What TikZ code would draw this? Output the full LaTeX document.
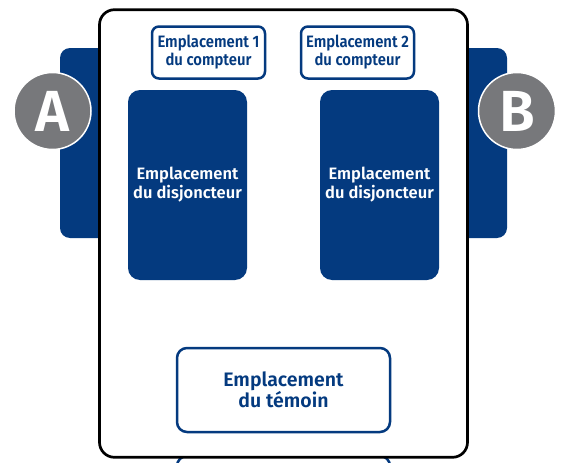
\documentclass[tikz,border=0pt]{standalone}
\usepackage{fontspec}
\setmainfont{Fira Sans}[BoldFont={Fira Sans SemiBold}]
\newfontfamily\narrowfont{Fira Sans}[BoldFont={Fira Sans SemiBold}, FakeStretch=0.9]
\definecolor{boxblue}{HTML}{043A7F}
\definecolor{markgray}{HTML}{77787B}

\tikzset{
  tabbox/.style={fill=boxblue, draw=none, rounded corners=10pt},
  slotbox/.style={draw=boxblue, line width=2.5pt, fill=white, rounded corners=7pt, text=boxblue, align=center},
  breakerbox/.style={fill=boxblue, draw=none, rounded corners=12pt, text=white, align=center,
    minimum width=119, minimum height=190, font=\bfseries\fontsize{16.5}{19}\selectfont},
  sidemark/.style={circle, fill=markgray, draw=white, line width=1.5pt, minimum size=77,
    inner sep=0pt, text=white, font=\bfseries\fontsize{58}{58}\selectfont}
}

\begin{document}
\begin{tikzpicture}[x=1pt, y=-1pt]

        \useasboundingbox (0,0) rectangle (563,463);

        %coordinates
        \coordinate (M) at (283.5,233.5); % boitier
        \coordinate (C1) at (208.5,52.5); % compteur 1
        \coordinate (C2) at (357.5,52.5); % compteur 2
        \coordinate (D1) at (187.5,185); % disjoncteur 1
        \coordinate (D2) at (379.5,185); % disjoncteur 2
        \coordinate (T) at (283.5,390); % temoin

        %side tabs
        \node[tabbox, minimum width=50, minimum height=190] (tabA) at (85,143) {};
        \node[tabbox, minimum width=51, minimum height=190] (tabB) at (481.5,143) {};

        %lower box, cut by the page
        \begin{scope}
          \clip (0,0) rectangle (563,463);
          \node[slotbox, rounded corners=10pt, minimum width=213, minimum height=60] (socle) at (283.5,486) {};
        \end{scope}

        %main box
        \node[draw=black, line width=2.7pt, fill=white, rounded corners=15pt,
              minimum width=368, minimum height=447.6] (boitier) at (M) {};

        %circles
        \node[sidemark] (markA) at (52.5,111) {A};
        \node[sidemark] (markB) at (517,111) {B};

        %counters
        \node[slotbox, minimum width=113, minimum height=52,
              font=\narrowfont\bfseries\fontsize{16.5}{18}\selectfont] (compteur1) at (C1)
              {Emplacement 1\\du compteur};
        \node[slotbox, minimum width=113, minimum height=52,
              font=\narrowfont\bfseries\fontsize{16.5}{18}\selectfont] (compteur2) at (C2)
              {Emplacement 2\\du compteur};

        %breakers
        \node[breakerbox] (disjoncteur1) at (D1) {Emplacement\\du disjoncteur};
        \node[breakerbox] (disjoncteur2) at (D2) {Emplacement\\du disjoncteur};

        %indicator
        \node[slotbox, rounded corners=10pt, minimum width=213, minimum height=84,
              font=\bfseries\fontsize{19.5}{20}\selectfont] (temoin) at (T)
              {Emplacement\\du témoin};

\end{tikzpicture}
\end{document}
